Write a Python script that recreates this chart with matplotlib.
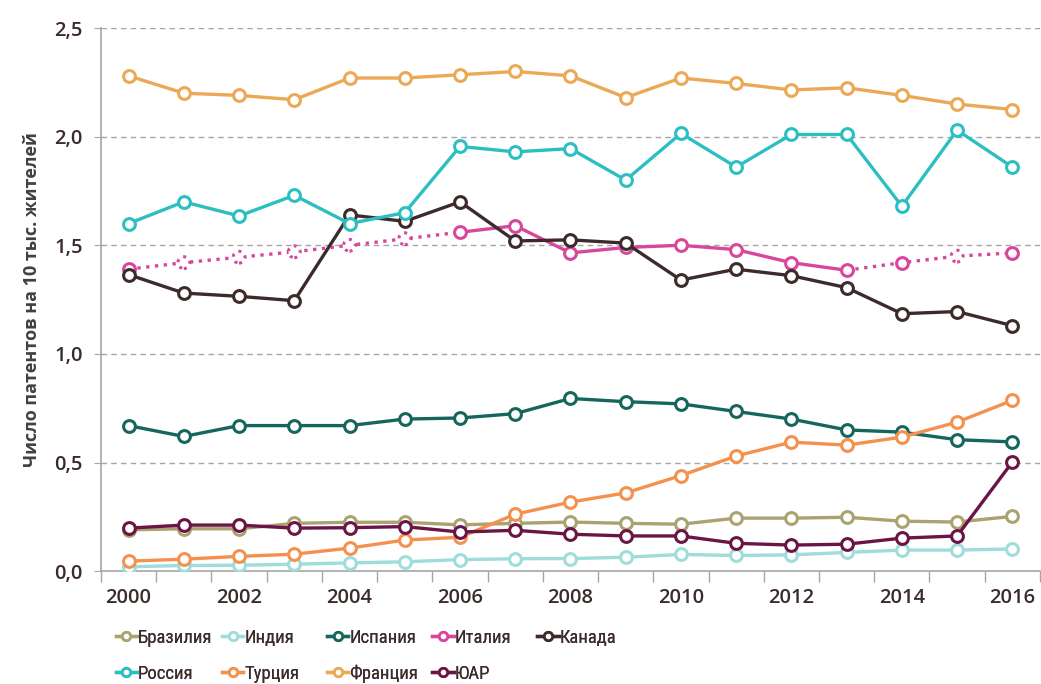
import numpy as np
import matplotlib
matplotlib.use("Agg")
import matplotlib.pyplot as plt
from matplotlib.lines import Line2D
from matplotlib import font_manager

years = list(range(2000, 2017))

brazil = [0.19, 0.195, 0.195, 0.22, 0.225, 0.225, 0.213, 0.22, 0.226, 0.22, 0.216, 0.244, 0.244, 0.248, 0.23, 0.226, 0.252]
india = [0.02, 0.026, 0.027, 0.032, 0.038, 0.043, 0.053, 0.057, 0.058, 0.064, 0.077, 0.072, 0.075, 0.086, 0.097, 0.097, 0.102]
spain = [0.67, 0.62, 0.67, 0.67, 0.67, 0.70, 0.705, 0.725, 0.795, 0.78, 0.77, 0.735, 0.70, 0.65, 0.64, 0.605, 0.595]
italy = [1.39, 1.42, 1.445, 1.47, 1.50, 1.53, 1.56, 1.59, 1.465, 1.49, 1.50, 1.48, 1.42, 1.385, 1.42, 1.45, 1.465]
canada = [1.365, 1.28, 1.265, 1.245, 1.64, 1.61, 1.70, 1.52, 1.525, 1.51, 1.34, 1.39, 1.36, 1.305, 1.185, 1.195, 1.13]
russia = [1.60, 1.70, 1.635, 1.73, 1.60, 1.65, 1.955, 1.93, 1.945, 1.80, 2.015, 1.86, 2.01, 2.01, 1.68, 2.03, 1.86]
turkey = [0.046, 0.055, 0.068, 0.078, 0.106, 0.143, 0.156, 0.262, 0.318, 0.36, 0.44, 0.53, 0.594, 0.58, 0.617, 0.686, 0.786]
france = [2.28, 2.20, 2.19, 2.17, 2.27, 2.27, 2.285, 2.30, 2.28, 2.18, 2.27, 2.245, 2.215, 2.225, 2.19, 2.15, 2.125]
sar = [0.198, 0.212, 0.212, 0.198, 0.20, 0.205, 0.18, 0.188, 0.17, 0.162, 0.162, 0.128, 0.12, 0.124, 0.152, 0.162, 0.502]

# Italy: estimated years (dotted)
italy_est = [1, 2, 3, 4, 5, 15]

series = [
    ("Бразилия", brazil, "#ABA271"),
    ("Индия", india, "#9EDDDB"),
    ("Испания", spain, "#16665E"),
    ("Италия", italy, "#D8479B"),
    ("Канада", canada, "#3D2B2C"),
    ("Россия", russia, "#2CBFC1"),
    ("Турция", turkey, "#F4914F"),
    ("Франция", france, "#EBA955"),
    ("ЮАР", sar, "#6A1545"),
]

plt.rcParams['font.family'] = ['Open Sans', 'DejaVu Sans']
txt_color = "#3B2B2B"

# a condensed face for the legend if one is installed
leg_family, leg_size = 'Open Sans', 12.5
for fam in ['Roboto Condensed', 'DejaVu Sans Condensed', 'Liberation Sans Narrow']:
    try:
        font_manager.findfont(font_manager.FontProperties(family=fam),
                              fallback_to_default=False)
        leg_family, leg_size = fam, 13.5
        break
    except ValueError:
        pass

fig = plt.figure(figsize=(10.41, 6.84), dpi=100)
ax = fig.add_axes([0.097, 0.165, 0.902, 0.794])

x = np.arange(len(years))
lw = 2.4
ms = 8.5
handles = {}
for name, vals, col in series:
    vals = np.array(vals)
    if name == "Италия":
        ax.plot(x[0:7], vals[0:7], ':', color=col, lw=lw, zorder=2)
        ax.plot(x[13:], vals[13:], ':', color=col, lw=lw, zorder=2)
        ax.plot(x[6:14], vals[6:14], '-', color=col, lw=lw, zorder=2)
        solid = [i for i in range(len(x)) if i not in italy_est]
        ax.plot(x[solid], vals[solid], 'o', ls='none', color=col, ms=ms,
                mfc='white', mew=2.2, zorder=3)
        ax.scatter(x[italy_est], vals[italy_est], s=ms ** 2, facecolor='white',
                   edgecolor=col, linewidths=2.2, linestyles=':', zorder=3)
    else:
        ax.plot(x, vals, '-o', color=col, lw=lw, ms=ms, mfc='white', mew=2.2, zorder=3)
    handles[name] = Line2D([], [], color=col, lw=2.4, marker='o', ms=6,
                           mfc='white', mew=2.0)

ax.set_xlim(-0.5, len(years) - 0.5)
ax.set_ylim(0, 2.5)
ax.set_xticks(np.arange(-0.5, len(years), 1))
ax.set_xticklabels([])
ax.set_xticks(x[::2], minor=True)
ax.set_xticklabels([str(y) for y in years[::2]], minor=True)
ax.tick_params(axis='x', which='major', length=8, color='#A6A6A6', width=1)
ax.tick_params(axis='x', which='minor', length=0, pad=12, labelsize=14.5,
               labelcolor=txt_color)

yt = [0, 0.5, 1.0, 1.5, 2.0, 2.5]
ax.set_yticks(yt)
ax.set_yticklabels([f"{v:.1f}".replace('.', ',') for v in yt])
ax.tick_params(axis='y', length=5, color='#A6A6A6', labelsize=14.5,
               labelcolor=txt_color, pad=8)
for lab in ax.get_xticklabels(minor=True) + ax.get_yticklabels():
    lab.set_fontweight('semibold')

for v in yt[1:]:
    ax.axhline(v, color='#A6A6A6', lw=1, ls=(0, (4, 3)), zorder=1)

for s in ['top', 'right']:
    ax.spines[s].set_visible(False)
for s in ['left', 'bottom']:
    ax.spines[s].set_color('#A6A6A6')
    ax.spines[s].set_linewidth(1.2)

ax.set_ylabel("Число патентов на 10 тыс. жителей", fontsize=13,
              fontweight='bold', color='#404040', labelpad=10)

# legend: five columns, evenly spaced
columns = [["Бразилия", "Россия"], ["Индия", "Турция"], ["Испания", "Франция"],
           ["Италия", "ЮАР"], ["Канада"]]
col_x = [0.111, 0.213, 0.314, 0.415, 0.516]
for cx, names in zip(col_x, columns):
    leg = fig.legend([handles[n] for n in names], names, loc='upper left',
                     bbox_to_anchor=(cx, 0.081), frameon=False,
                     prop={'family': leg_family, 'size': leg_size},
                     handlelength=1.15, handletextpad=0.05,
                     labelspacing=1.0 * 13 / leg_size,
                     labelcolor=txt_color, borderaxespad=0, borderpad=0)
    fig.add_artist(leg)

fig.savefig("out.png", dpi=100)
